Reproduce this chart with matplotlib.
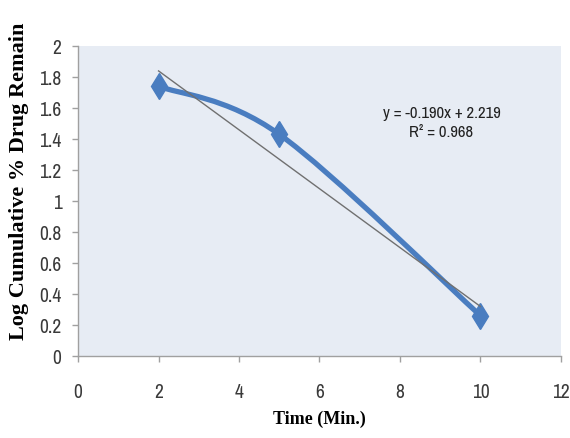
import matplotlib
matplotlib.use("Agg")
import matplotlib.pyplot as plt
from matplotlib.path import Path
from matplotlib.patches import PathPatch
import numpy as np

time_min = [2, 5, 10]
log_remain = [1.74, 1.43, 0.26]
slope, intercept = -0.190, 2.219
r2 = 0.968
x_ticks = [0, 2, 4, 6, 8, 10, 12]
y_ticks = [0, 0.2, 0.4, 0.6, 0.8, 1, 1.2, 1.4, 1.6, 1.8, 2]
y_tick_labels = ["0", "0.2", "0.4", "0.6", "0.8", "1", "1.2", "1.4", "1.6", "1.8", "2"]

blue = "#4A7DC0"
tick_font = ["Archivo Narrow", "Lato", "DejaVu Sans"]

fig = plt.figure(figsize=(5.70, 4.39), dpi=100)
ax = fig.add_axes([0.137, 0.187, 0.847, 0.706])
ax.set_facecolor("#E7ECF4")
ax.set_xlim(0, 12)
ax.set_ylim(0, 2)

# Excel-like smoothed line (Catmull-Rom bezier)
pts = np.column_stack([time_min, log_remain]).astype(float)
ext = np.vstack([pts[0], pts, pts[-1]])
verts = [tuple(pts[0])]
codes = [Path.MOVETO]
for i in range(1, len(ext) - 2):
    p0, p1, p2, p3 = ext[i - 1], ext[i], ext[i + 1], ext[i + 2]
    c1 = p1 + (p2 - p0) / 6.0
    c2 = p2 - (p3 - p1) / 6.0
    verts += [tuple(c1), tuple(c2), tuple(p2)]
    codes += [Path.CURVE4] * 3
ax.add_patch(PathPatch(Path(verts, codes), fill=False, edgecolor=blue,
                       lw=3.8, capstyle="round", joinstyle="round", zorder=3))
ax.plot(time_min, log_remain, linestyle="none", marker="d", markersize=13,
        color=blue, zorder=4)

# trend line
tx = np.array([min(time_min), max(time_min)])
ax.plot(tx, slope * tx + intercept, color="#707070", lw=1.0, zorder=5)

ax.text(9.03, 1.51, f"y = {slope:.3f}x + {intercept:.3f}\nR² = {r2:.3f}",
        ha="center", va="center", fontsize=12, family=tick_font,
        color="#222222", linespacing=1.35)

ax.set_xticks(x_ticks)
ax.set_xticklabels([str(v) for v in x_ticks])
ax.set_yticks(y_ticks)
ax.set_yticklabels(y_tick_labels)
for lab in ax.get_xticklabels() + ax.get_yticklabels():
    lab.set_family(tick_font)
    lab.set_fontsize(14)
    lab.set_color("#3A3A3A")
ax.tick_params(axis="both", direction="out", length=4, color="#A0A0A0", width=1)
ax.tick_params(axis="x", pad=15)
ax.tick_params(axis="y", pad=8)
for s in ["top", "right"]:
    ax.spines[s].set_visible(False)
for s in ["left", "bottom"]:
    ax.spines[s].set_color("#A0A0A0")
    ax.spines[s].set_linewidth(1)

ax.set_xlabel("Time (Min.)", family="Liberation Serif", fontweight="bold",
              fontsize=13, labelpad=6)
ax.set_ylabel("Log Cumulative % Drug Remain", family="Liberation Serif",
              fontweight="bold", fontsize=16, va="center")
ax.yaxis.set_label_coords(-0.122, 0.568)

fig.savefig("out.png", dpi=100, facecolor="white")
